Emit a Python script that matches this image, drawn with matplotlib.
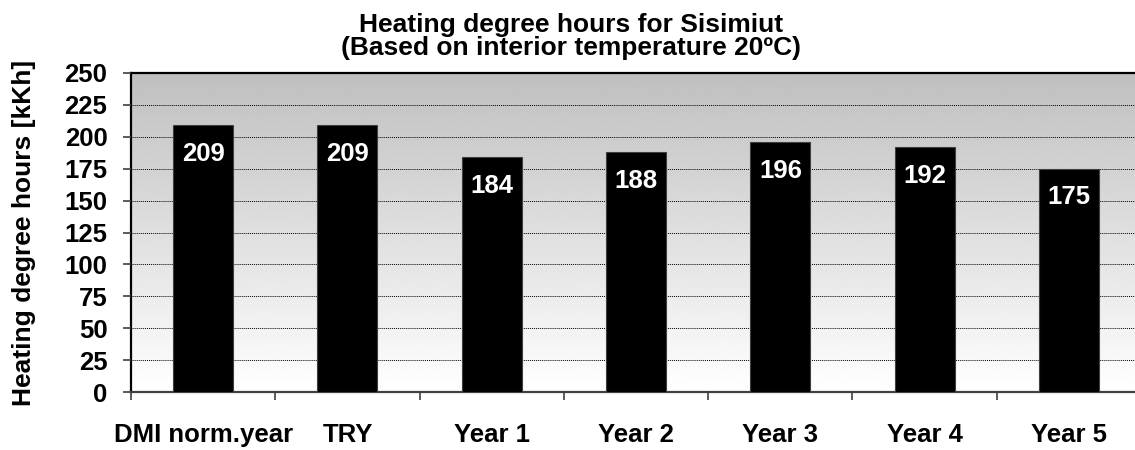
import matplotlib.pyplot as plt
import numpy as np
from matplotlib.ticker import FixedLocator

plt.rcParams['font.family'] = ['Liberation Sans', 'DejaVu Sans']
plt.rcParams['font.weight'] = 'bold'

categories = ['DMI norm.year', 'TRY', 'Year 1', 'Year 2', 'Year 3', 'Year 4', 'Year 5']
values = [209, 209, 184, 188, 196, 192, 175]
y_ticks = [0, 25, 50, 75, 100, 125, 150, 175, 200, 225, 250]

fig = plt.figure(figsize=(11.35, 4.5), dpi=100)
ax = fig.add_axes([131 / 1135, 58 / 450, 1004 / 1135, 319 / 450])

x = np.arange(len(categories))

# grey (top) to white (bottom) gradient background
grad = np.linspace(0.75, 1.0, 256).reshape(-1, 1)
ax.imshow(grad, cmap='gray', vmin=0, vmax=1, aspect='auto', origin='upper',
          extent=[0, 1, 0, 1], transform=ax.transAxes, zorder=0)

bars = ax.bar(x, values, width=0.416, color='black', edgecolor='#404040',
              linewidth=0.8, zorder=3)

for xi, v in zip(x, values):
    ax.annotate(str(v), (xi, v), xytext=(0, -12), textcoords='offset points',
                ha='center', va='top', color='white', fontsize=18.5,
                fontweight='bold', zorder=4)

ax.set_xlim(-0.5, 6.458)
ax.set_ylim(0, 250)
ax.set_yticks(y_ticks)
ax.yaxis.grid(True, linestyle=(0, (1, 1)), color='black', linewidth=0.7, zorder=1)
ax.set_axisbelow(False)

ax.set_xticks(x)
ax.set_xticklabels(categories)
ax.xaxis.set_minor_locator(FixedLocator(np.arange(-0.5, 7, 1.0)))
ax.tick_params(axis='x', which='major', length=0, pad=22, labelsize=18.5)
ax.tick_params(axis='x', which='minor', length=6, width=1.2, color='#404040')
ax.tick_params(axis='y', length=6, width=1.2, pad=11, labelsize=18.5, color='#404040')
for lbl in ax.get_xticklabels() + ax.get_yticklabels():
    lbl.set_fontweight('bold')

for s in ['left', 'top', 'bottom']:
    ax.spines[s].set_linewidth(1.6)
    ax.spines[s].set_color('black')
ax.spines['bottom'].set_color('#404040')
ax.spines['right'].set_visible(False)

ax.set_ylabel('Heating degree hours [kKh]', fontsize=19, fontweight='bold', labelpad=20)

fig.text(571 / 1135, 1 - 32 / 450, 'Heating degree hours for Sisimiut',
         ha='center', va='baseline', fontsize=19, fontweight='bold')
fig.text(571 / 1135, 1 - 55 / 450, '(Based on interior temperature 20ºC)',
         ha='center', va='baseline', fontsize=19, fontweight='bold')

fig.savefig('out.png', dpi=100, facecolor='white')
